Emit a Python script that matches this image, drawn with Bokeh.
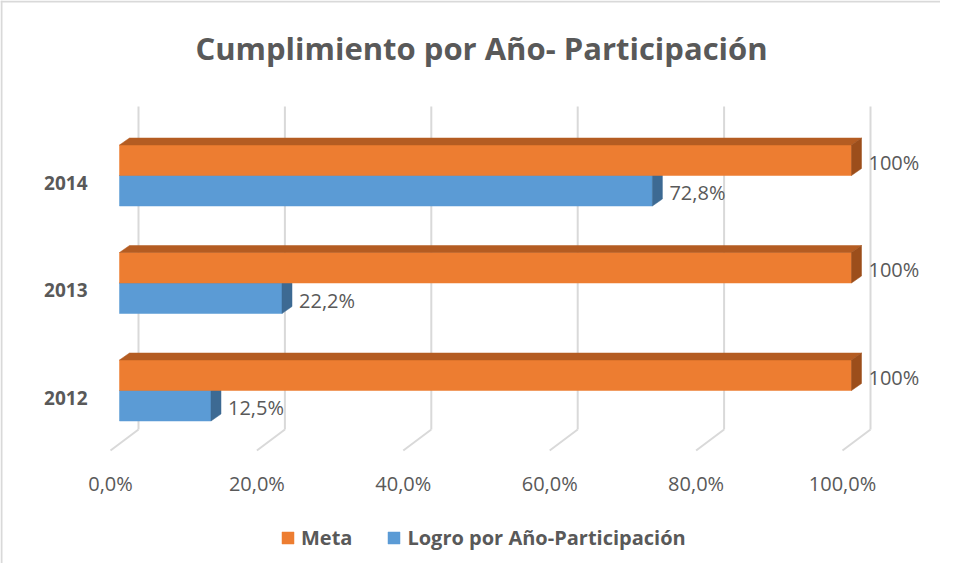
from bokeh.plotting import figure
from bokeh.models import Range1d, Label, Legend, LegendItem, Span
from bokeh.core.properties import value
from bokeh.embed import file_html
from bokeh.resources import INLINE

# ---- data ----
years = ["2012", "2013", "2014"]
meta = [100.0, 100.0, 100.0]
logro = [12.5, 22.2, 72.8]
meta_labels = ["100%", "100%", "100%"]
logro_labels = ["12,5%", "22,2%", "72,8%"]
x_ticks = [0, 20, 40, 60, 80, 100]
x_tick_labels = ["0,0%", "20,0%", "40,0%", "60,0%", "80,0%", "100,0%"]
title_text = "Cumplimiento por Año- Participación"
series_names = ["Meta", "Logro por Año-Participación"]

# ---- geometry / style ----
W, H = 940, 563
SX = 7.32      # px per percent
SY = 107.5     # px per category step
X0 = 119       # px of 0% (bar front)
Y0 = 173       # px from bottom of the first category boundary
FONT = "Open Sans"
GREY = "#595959"

def px(d):
    return d / SX

def py(d):
    return d / SY

p = figure(width=W, height=H, output_backend="svg", toolbar_location=None,
           x_range=Range1d(-X0 / SX, (W - X0) / SX),
           y_range=Range1d(-Y0 / SY, (H - Y0) / SY),
           x_axis_location=None, y_axis_location=None,
           min_border=0, outline_line_color=None, background_fill_color="white",
           border_fill_color="white")
p.grid.visible = False

# border (left and top)
p.add_layout(Span(location=p.x_range.start + px(1), dimension="height", line_color="#D9D9D9", line_width=2))
p.add_layout(Span(location=p.y_range.end - py(1), dimension="width", line_color="#D9D9D9", line_width=2))

# depth parameters
dx, dy = px(10), py(7)          # bar depth
bx = px(19)                     # back wall offset
fx, fy = px(-9), py(-21)        # floor front offset
h = py(30.5)                    # bar thickness
v_top, v_bot = py(398 - 114), py(398 - 437)

# back-wall gridlines and floor lines
gx0, gy0, gx1, gy1 = [], [], [], []
for t in x_ticks:
    gx0 += [t + bx, t + bx]
    gy0 += [v_bot, v_bot]
    gx1 += [t + bx, t + fx]
    gy1 += [v_top, v_bot + fy]
p.segment(x0=gx0, y0=gy0, x1=gx1, y1=gy1, line_color="#D9D9D9", line_width=2)

# x tick labels (at floor front)
p.text(x=[t + fx for t in x_ticks], y=[py(398 - 491)] * len(x_ticks), text=x_tick_labels,
       text_align="center", text_baseline="middle", text_font=value(FONT),
       text_font_size="20px", text_color=GREY)

def bar(val, bottom, top, front, top_c, side_c):
    r = p.quad(left=[0], right=[val], bottom=[bottom], top=[top], fill_color=front,
               line_color=front, line_width=0.5)
    p.patch(x=[0, dx, val + dx, val], y=[top, top + dy, top + dy, top],
            fill_color=top_c, line_color=top_c, line_width=0.5)
    p.patch(x=[val, val + dx, val + dx, val], y=[bottom, bottom + dy, top + dy, top],
            fill_color=side_c, line_color=side_c, line_width=0.5)
    return r

meta_r, logro_r = None, None
for i in range(len(years)):
    logro_r = bar(logro[i], i - h, i, "#5B9BD5", "#4A86BD", "#3D6A93")
    meta_r = bar(meta[i], i, i + h, "#ED7D31", "#B45C22", "#9C4E1B")

# data labels
lab_off = px(17)
p.text(x=[m + lab_off for m in meta], y=[i + h / 2 - py(2) for i in range(len(years))],
       text=meta_labels, text_align="left", text_baseline="middle",
       text_font=value(FONT), text_font_size="20px", text_color=GREY)
p.text(x=[l + lab_off for l in logro], y=[i - h / 2 - py(2) for i in range(len(years))],
       text=logro_labels, text_align="left", text_baseline="middle",
       text_font=value(FONT), text_font_size="20px", text_color=GREY)

# category labels
p.text(x=[px(95 - 127)] * len(years), y=[i - py(7) for i in range(len(years))], text=years,
       text_align="right", text_baseline="middle", text_font=value(FONT),
       text_font_size="19px", text_font_style="bold", text_color=GREY)

# title
p.add_layout(Label(x=489 - 8, y=H - (55 - 8), x_units="screen", y_units="screen",
                   text=title_text, text_align="center", text_baseline="middle",
                   text_font=FONT, text_font_size="31px", text_font_style="bold",
                   text_color=GREY))

# legend
legend = Legend(items=[LegendItem(label=series_names[0], renderers=[meta_r]),
                       LegendItem(label=series_names[1], renderers=[logro_r])],
                orientation="horizontal", location=(280, 12),
                label_text_font=FONT, label_text_font_size="20px",
                label_text_font_style="bold", label_text_color=GREY,
                glyph_width=15, glyph_height=15, label_standoff=6, spacing=34,
                padding=0, margin=0, border_line_color=None, background_fill_alpha=0)
p.add_layout(legend)

open("out.html", "w").write(file_html(p, INLINE))
